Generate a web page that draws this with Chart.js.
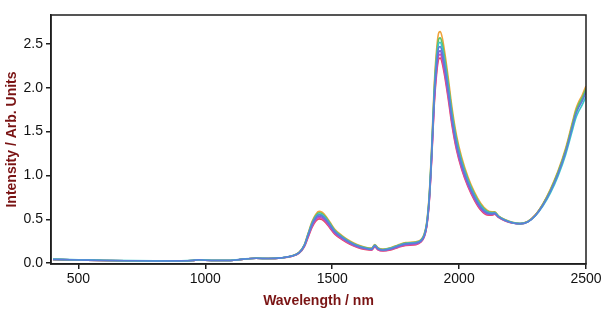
<!DOCTYPE html>
<html>
<head>
<meta charset="utf-8">
<script src="https://cdn.jsdelivr.net/npm/chart.js@4.4.1/dist/chart.umd.min.js"></script>
<style>
  html, body { margin: 0; padding: 0; background: #fff; }
  #wrap { width: 606px; height: 325px; }
</style>
</head>
<body>
<div id="wrap"><canvas id="chart" width="606" height="325"></canvas></div>
<script>
// Wavelength grid (nm)
const wavelengths = [400, 500, 600, 700, 800, 900, 950, 975, 1000, 1050, 1100, 1150, 1200, 1250, 1300,
    1340, 1370, 1390, 1405, 1420, 1435, 1448, 1460, 1475, 1490, 1510, 1540, 1570, 1600, 1630, 1655,
    1668, 1680, 1700, 1730, 1760, 1790, 1830, 1850, 1862, 1872, 1882, 1892, 1902, 1912, 1920, 1926,
    1934, 1945, 1958, 1972, 1990, 2010, 2035, 2060, 2085, 2110, 2130, 2140, 2155, 2180, 2210, 2240,
    2270, 2300, 2330, 2360, 2390, 2420, 2445, 2460, 2470, 2485, 2500];

// Spectra (intensity, arb. units)
const spec_red = [0.042, 0.036, 0.030, 0.027, 0.025, 0.026, 0.030, 0.038, 0.033, 0.030, 0.030, 0.046, 0.055, 0.052, 0.060,
    0.077, 0.113, 0.185, 0.294, 0.404, 0.477, 0.505, 0.496, 0.459, 0.404, 0.330, 0.266, 0.216, 0.179, 0.156, 0.147,
    0.184, 0.151, 0.138, 0.151, 0.179, 0.202, 0.211, 0.241, 0.294, 0.407, 0.682, 1.184, 1.799, 2.178, 2.330, 2.340,
    2.273, 2.102, 1.856, 1.572, 1.288, 1.070, 0.871, 0.720, 0.606, 0.550, 0.548, 0.557, 0.521, 0.484, 0.457, 0.448,
    0.472, 0.548, 0.670, 0.832, 1.035, 1.289, 1.563, 1.726, 1.797, 1.878, 1.980];
const spec_magenta = [0.042, 0.036, 0.030, 0.027, 0.025, 0.026, 0.030, 0.038, 0.033, 0.030, 0.030, 0.046, 0.055, 0.052, 0.060,
    0.078, 0.116, 0.190, 0.302, 0.416, 0.491, 0.520, 0.510, 0.473, 0.416, 0.340, 0.274, 0.222, 0.184, 0.161, 0.151,
    0.189, 0.156, 0.142, 0.156, 0.184, 0.208, 0.217, 0.246, 0.299, 0.415, 0.694, 1.205, 1.832, 2.217, 2.371, 2.381,
    2.314, 2.140, 1.889, 1.600, 1.311, 1.089, 0.887, 0.733, 0.617, 0.558, 0.553, 0.561, 0.524, 0.486, 0.458, 0.449,
    0.471, 0.545, 0.667, 0.828, 1.030, 1.283, 1.556, 1.717, 1.788, 1.869, 1.970];
const spec_purple = [0.042, 0.036, 0.030, 0.027, 0.025, 0.026, 0.030, 0.038, 0.033, 0.030, 0.030, 0.046, 0.055, 0.052, 0.060,
    0.079, 0.118, 0.196, 0.312, 0.428, 0.506, 0.535, 0.525, 0.487, 0.428, 0.350, 0.282, 0.229, 0.190, 0.166, 0.156,
    0.195, 0.161, 0.146, 0.161, 0.190, 0.215, 0.225, 0.250, 0.304, 0.421, 0.706, 1.225, 1.862, 2.254, 2.411, 2.421,
    2.352, 2.176, 1.921, 1.627, 1.333, 1.107, 0.902, 0.745, 0.627, 0.566, 0.559, 0.566, 0.527, 0.488, 0.459, 0.449,
    0.470, 0.542, 0.663, 0.824, 1.025, 1.276, 1.548, 1.709, 1.779, 1.859, 1.960];
const spec_orange = [0.042, 0.036, 0.030, 0.027, 0.025, 0.026, 0.030, 0.038, 0.033, 0.030, 0.030, 0.046, 0.055, 0.052, 0.060,
    0.082, 0.125, 0.210, 0.340, 0.470, 0.556, 0.590, 0.580, 0.536, 0.472, 0.386, 0.311, 0.252, 0.209, 0.182, 0.171,
    0.212, 0.176, 0.160, 0.176, 0.208, 0.234, 0.244, 0.270, 0.330, 0.460, 0.770, 1.336, 2.031, 2.459, 2.630, 2.640,
    2.566, 2.373, 2.095, 1.774, 1.454, 1.208, 0.983, 0.812, 0.684, 0.604, 0.585, 0.585, 0.540, 0.497, 0.465, 0.452,
    0.474, 0.548, 0.676, 0.845, 1.052, 1.313, 1.592, 1.758, 1.832, 1.915, 2.020];
const spec_green = [0.042, 0.036, 0.030, 0.027, 0.025, 0.026, 0.030, 0.038, 0.033, 0.030, 0.030, 0.046, 0.055, 0.052, 0.060,
    0.081, 0.123, 0.206, 0.332, 0.458, 0.542, 0.575, 0.565, 0.522, 0.460, 0.376, 0.303, 0.245, 0.203, 0.177, 0.166,
    0.207, 0.171, 0.156, 0.171, 0.203, 0.229, 0.239, 0.264, 0.321, 0.447, 0.749, 1.300, 1.976, 2.392, 2.558, 2.569,
    2.496, 2.309, 2.038, 1.726, 1.414, 1.175, 0.957, 0.790, 0.666, 0.592, 0.578, 0.580, 0.537, 0.494, 0.463, 0.451,
    0.472, 0.545, 0.670, 0.834, 1.038, 1.293, 1.568, 1.732, 1.805, 1.888, 1.990];
const spec_teal = [0.046, 0.039, 0.032, 0.028, 0.026, 0.027, 0.031, 0.039, 0.034, 0.031, 0.031, 0.047, 0.056, 0.053, 0.061,
    0.080, 0.121, 0.203, 0.326, 0.448, 0.529, 0.560, 0.550, 0.509, 0.448, 0.366, 0.295, 0.239, 0.198, 0.173, 0.163,
    0.203, 0.168, 0.153, 0.168, 0.199, 0.224, 0.234, 0.260, 0.316, 0.439, 0.734, 1.275, 1.938, 2.346, 2.509, 2.519,
    2.448, 2.264, 1.999, 1.693, 1.387, 1.153, 0.938, 0.775, 0.653, 0.585, 0.572, 0.575, 0.533, 0.492, 0.462, 0.451,
    0.470, 0.538, 0.650, 0.800, 0.995, 1.240, 1.500, 1.655, 1.725, 1.805, 1.900];
const spec_blue = [0.042, 0.036, 0.030, 0.027, 0.025, 0.026, 0.030, 0.038, 0.033, 0.030, 0.030, 0.046, 0.055, 0.052, 0.060,
    0.080, 0.120, 0.200, 0.320, 0.440, 0.520, 0.550, 0.540, 0.500, 0.440, 0.360, 0.290, 0.235, 0.195, 0.170, 0.160,
    0.200, 0.165, 0.150, 0.165, 0.195, 0.220, 0.230, 0.255, 0.310, 0.430, 0.720, 1.250, 1.900, 2.300, 2.460, 2.470,
    2.400, 2.220, 1.960, 1.660, 1.360, 1.130, 0.920, 0.760, 0.640, 0.575, 0.565, 0.570, 0.530, 0.490, 0.460, 0.450,
    0.470, 0.540, 0.660, 0.820, 1.020, 1.270, 1.540, 1.700, 1.770, 1.850, 1.950];

// first entry ends up on top
const series = [spec_blue, spec_teal, spec_green, spec_orange, spec_purple, spec_magenta, spec_red];
const series_colors = ['#5a7fd8', '#3cc4c8', '#5cc36a', '#f0a33a', '#8a5ad6', '#d64fb4', '#e8485e'];

const x_ticks = [500, 1000, 1500, 2000, 2500];
const y_ticks = [0.0, 0.5, 1.0, 1.5, 2.0, 2.5];

const axis_red = '#7a1414';
const frame_color = '#1e1e1e';

// Box around the plotting area
const frame_plugin = {
    id: 'frame',
    afterDatasetsDraw(chart) {
        const a = chart.chartArea;
        const ctx = chart.ctx;
        ctx.save();
        ctx.strokeStyle = frame_color;
        ctx.lineWidth = 1.5;
        ctx.strokeRect(a.left, a.top, a.right - a.left, a.bottom - a.top);
        ctx.restore();
    }
};

const datasets = series.map((values, i) => ({
    data: wavelengths.map((w, j) => ({ x: w, y: values[j] })),
    borderColor: series_colors[i],
    borderWidth: 1.6,
    pointRadius: 0,
    fill: false,
    cubicInterpolationMode: 'monotone'
}));

new Chart(document.getElementById('chart'), {
    type: 'line',
    data: { datasets: datasets },
    plugins: [frame_plugin],
    options: {
        responsive: false,
        animation: false,
        layout: { padding: { top: 15, right: 20, left: 0, bottom: 15 } },
        plugins: { legend: { display: false }, tooltip: { enabled: false } },
        scales: {
            x: {
                type: 'linear',
                min: 392,
                max: 2500,
                afterBuildTicks: scale => { scale.ticks = x_ticks.map(v => ({ value: v })); },
                afterFit: scale => { scale.height = 46; },
                grid: { drawOnChartArea: false, drawTicks: true, tickLength: 5, color: frame_color, lineWidth: 1.5 },
                border: { display: true, color: frame_color, width: 1.5 },
                ticks: {
                    color: '#111',
                    padding: 2,
                    maxRotation: 0,
                    font: { family: 'Liberation Sans, Arial, sans-serif', size: 14 },
                    callback: v => String(v)
                },
                title: {
                    display: true,
                    text: 'Wavelength / nm',
                    color: axis_red,
                    padding: { top: 2, bottom: 0 },
                    font: { family: 'Liberation Sans, Arial, sans-serif', size: 14, weight: 'bold' }
                }
            },
            y: {
                type: 'linear',
                min: -0.01,
                max: 2.83,
                afterBuildTicks: scale => { scale.ticks = y_ticks.map(v => ({ value: v })); },
                afterFit: scale => { scale.width = 51; },
                grid: { drawOnChartArea: false, drawTicks: true, tickLength: 5, color: frame_color, lineWidth: 1.5 },
                border: { display: true, color: frame_color, width: 1.5 },
                ticks: {
                    color: '#111',
                    padding: 3,
                    font: { family: 'Liberation Sans, Arial, sans-serif', size: 14 },
                    callback: v => Number(v).toFixed(1)
                },
                title: {
                    display: true,
                    text: 'Intensity / Arb. Units',
                    color: axis_red,
                    padding: { top: 4, bottom: 0 },
                    font: { family: 'Liberation Sans, Arial, sans-serif', size: 14, weight: 'bold' }
                }
            }
        }
    }
});
</script>
</body>
</html>
